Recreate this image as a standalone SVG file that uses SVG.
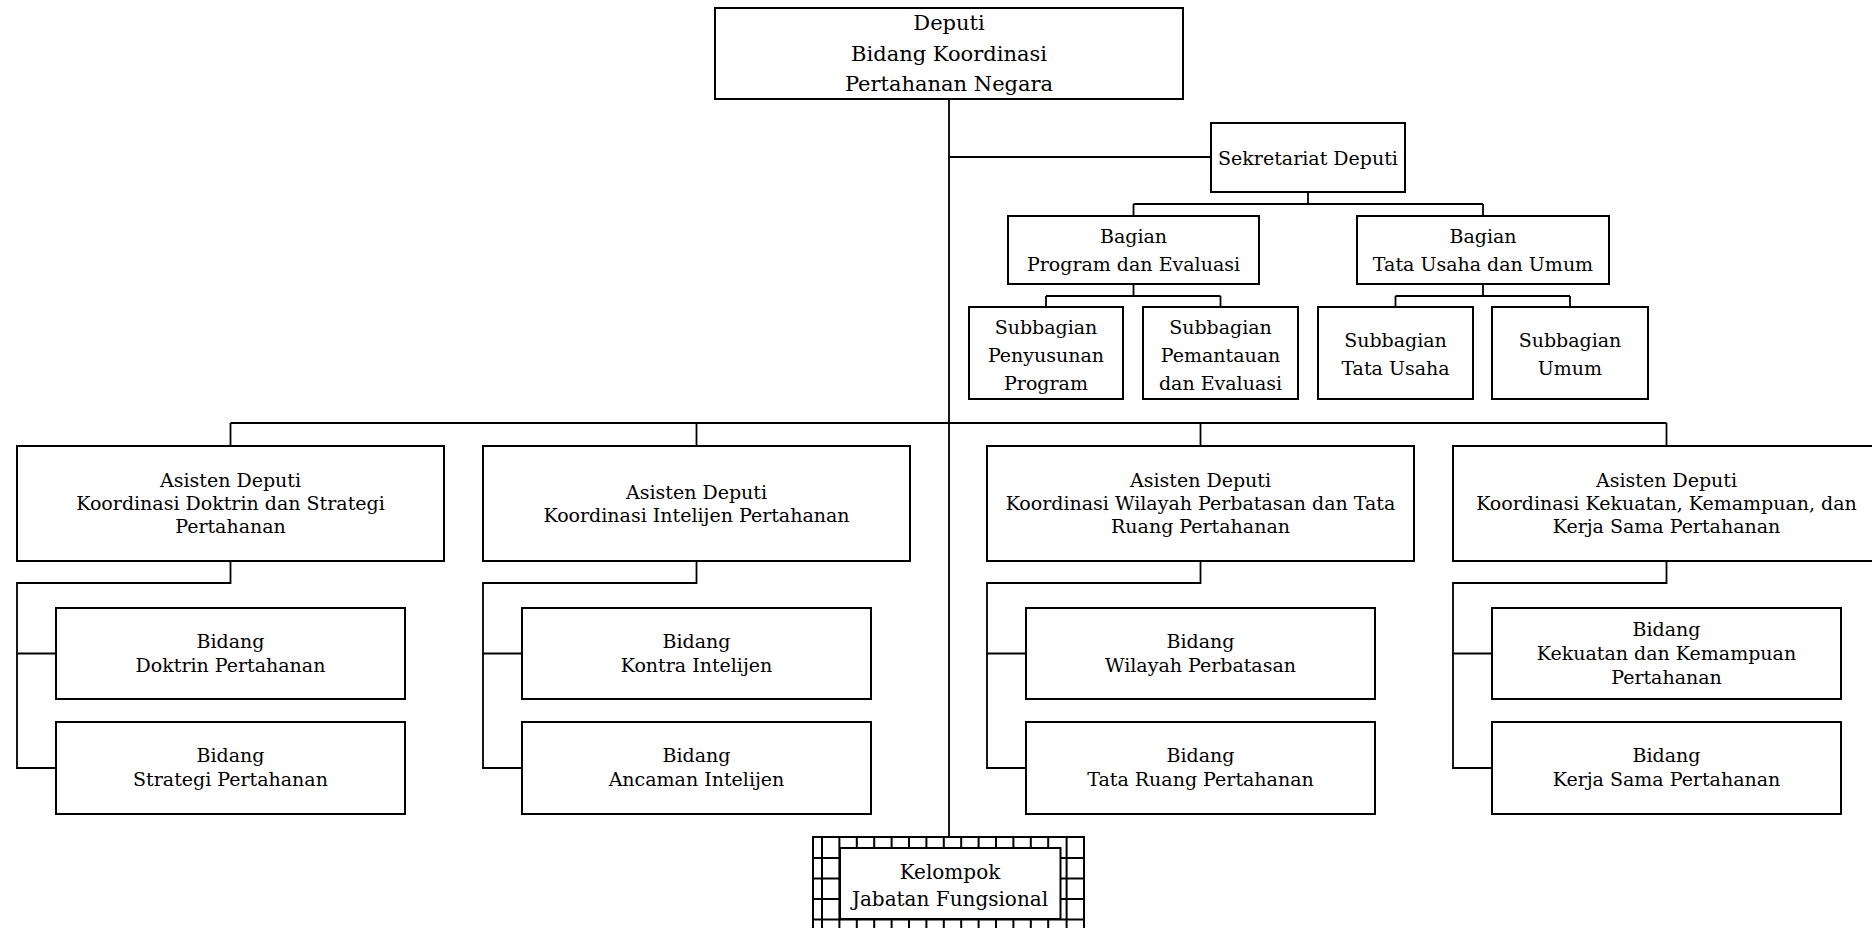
<svg xmlns="http://www.w3.org/2000/svg" width="1872" height="928" viewBox="0 0 1872 928">
<style>
.box{fill:#fff;stroke:#000;stroke-width:2}
.con{fill:none;stroke:#000;stroke-width:1.8}
.hatch{fill:none;stroke:#000;stroke-width:2}
text{font-family:"DejaVu Serif","Liberation Serif",serif;font-size:19px;fill:#000;text-anchor:middle}
.big{font-size:21px}
.kel{font-size:20px}
</style>
<rect width="1872" height="928" fill="#fff"/>
<g id="connectors">
<path class="con" d="M949 99 V837 M949 157 H1211 M1308 192 V204 M1133.5 204 H1483 M1133.5 204 V216 M1483 204 V216 M1133.5 284 V296 M1046 296 H1220.5 M1046 296 V307 M1220.5 296 V307 M1483 284 V296 M1395.5 296 H1570 M1395.5 296 V307 M1570 296 V307 M230.5 423 H1666.5 M230.5 423 V446 M696.5 423 V446 M1200.5 423 V446 M1666.5 423 V446 M230.5 561 V583 H17 V768 H56 M17 653.5 H56 M696.5 561 V583 H483 V768 H522 M483 653.5 H522 M1200.5 561 V583 H987 V768 H1026 M987 653.5 H1026 M1666.5 561 V583 H1453 V768 H1492 M1453 653.5 H1492"/>
</g>
<g id="deputi">
<rect class="box" x="715" y="8" width="468" height="91"/>
<text class="big" x="949" y="30">Deputi</text>
<text class="big" x="949" y="60.5">Bidang Koordinasi</text>
<text class="big" x="949" y="91">Pertahanan Negara</text>
</g>
<g id="sekretariat">
<rect class="box" x="1211" y="123" width="194" height="69"/>
<text x="1308" y="165">Sekretariat Deputi</text>
</g>
<g id="bagian-pe">
<rect class="box" x="1008" y="216" width="251" height="68"/>
<text x="1133.5" y="243">Bagian</text>
<text x="1133.5" y="271">Program dan Evaluasi</text>
</g>
<g id="bagian-tu">
<rect class="box" x="1357" y="216" width="252" height="68"/>
<text x="1483" y="243">Bagian</text>
<text x="1483" y="271">Tata Usaha dan Umum</text>
</g>
<g id="sub-penyusunan">
<rect class="box" x="969" y="307" width="154" height="92"/>
<text x="1046" y="334">Subbagian</text>
<text x="1046" y="362">Penyusunan</text>
<text x="1046" y="390">Program</text>
</g>
<g id="sub-pemantauan">
<rect class="box" x="1143" y="307" width="155" height="92"/>
<text x="1220.5" y="334">Subbagian</text>
<text x="1220.5" y="362">Pemantauan</text>
<text x="1220.5" y="390">dan Evaluasi</text>
</g>
<g id="sub-tatausaha">
<rect class="box" x="1318" y="307" width="155" height="92"/>
<text x="1395.5" y="347">Subbagian</text>
<text x="1395.5" y="375">Tata Usaha</text>
</g>
<g id="sub-umum">
<rect class="box" x="1492" y="307" width="156" height="92"/>
<text x="1570" y="347">Subbagian</text>
<text x="1570" y="375">Umum</text>
</g>
<g id="asdep-doktrin">
<rect class="box" x="17" y="446" width="427" height="115"/>
<text x="230.5" y="487">Asisten Deputi</text>
<text x="230.5" y="510">Koordinasi Doktrin dan Strategi</text>
<text x="230.5" y="533">Pertahanan</text>
</g>
<g id="asdep-intelijen">
<rect class="box" x="483" y="446" width="427" height="115"/>
<text x="696.5" y="499">Asisten Deputi</text>
<text x="696.5" y="522">Koordinasi Intelijen Pertahanan</text>
</g>
<g id="asdep-wilayah">
<rect class="box" x="987" y="446" width="427" height="115"/>
<text x="1200.5" y="487">Asisten Deputi</text>
<text x="1200.5" y="510">Koordinasi Wilayah Perbatasan dan Tata</text>
<text x="1200.5" y="533">Ruang Pertahanan</text>
</g>
<g id="asdep-kekuatan">
<rect class="box" x="1453" y="446" width="427" height="115"/>
<text x="1666.5" y="487">Asisten Deputi</text>
<text x="1666.5" y="510">Koordinasi Kekuatan, Kemampuan, dan</text>
<text x="1666.5" y="533">Kerja Sama Pertahanan</text>
</g>
<g id="bidang-doktrin">
<rect class="box" x="56" y="608" width="349" height="91"/>
<text x="230.5" y="648">Bidang</text>
<text x="230.5" y="672">Doktrin Pertahanan</text>
</g>
<g id="bidang-strategi">
<rect class="box" x="56" y="722" width="349" height="92"/>
<text x="230.5" y="762">Bidang</text>
<text x="230.5" y="786">Strategi Pertahanan</text>
</g>
<g id="bidang-kontra">
<rect class="box" x="522" y="608" width="349" height="91"/>
<text x="696.5" y="648">Bidang</text>
<text x="696.5" y="672">Kontra Intelijen</text>
</g>
<g id="bidang-ancaman">
<rect class="box" x="522" y="722" width="349" height="92"/>
<text x="696.5" y="762">Bidang</text>
<text x="696.5" y="786">Ancaman Intelijen</text>
</g>
<g id="bidang-wilayah">
<rect class="box" x="1026" y="608" width="349" height="91"/>
<text x="1200.5" y="648">Bidang</text>
<text x="1200.5" y="672">Wilayah Perbatasan</text>
</g>
<g id="bidang-tataruang">
<rect class="box" x="1026" y="722" width="349" height="92"/>
<text x="1200.5" y="762">Bidang</text>
<text x="1200.5" y="786">Tata Ruang Pertahanan</text>
</g>
<g id="bidang-kekuatan">
<rect class="box" x="1492" y="608" width="349" height="91"/>
<text x="1666.5" y="636">Bidang</text>
<text x="1666.5" y="660">Kekuatan dan Kemampuan</text>
<text x="1666.5" y="684">Pertahanan</text>
</g>
<g id="bidang-kerjasama">
<rect class="box" x="1492" y="722" width="349" height="92"/>
<text x="1666.5" y="762">Bidang</text>
<text x="1666.5" y="786">Kerja Sama Pertahanan</text>
</g>
<g id="kelompok">
<rect x="813" y="837" width="271" height="100" fill="#fff" stroke="#000" stroke-width="2"/>
<path class="hatch" d="M822 837 V928 M839.4 837 V928 M856.8 837 V928 M874.2 837 V928 M891.6 837 V928 M909 837 V928 M926.4 837 V928 M943.8 837 V928 M961.2 837 V928 M978.6 837 V928 M996 837 V928 M1013.4 837 V928 M1030.8 837 V928 M1048.2 837 V928 M1066.6 837 V928 M813 858 H1084 M813 878.5 H1084 M813 899 H1084 M813 919.5 H1084"/>
<rect class="box" x="840" y="848" width="220.5" height="71"/>
<text class="kel" x="950" y="879">Kelompok</text>
<text class="kel" x="950" y="906">Jabatan Fungsional</text>
</g>
</svg>
